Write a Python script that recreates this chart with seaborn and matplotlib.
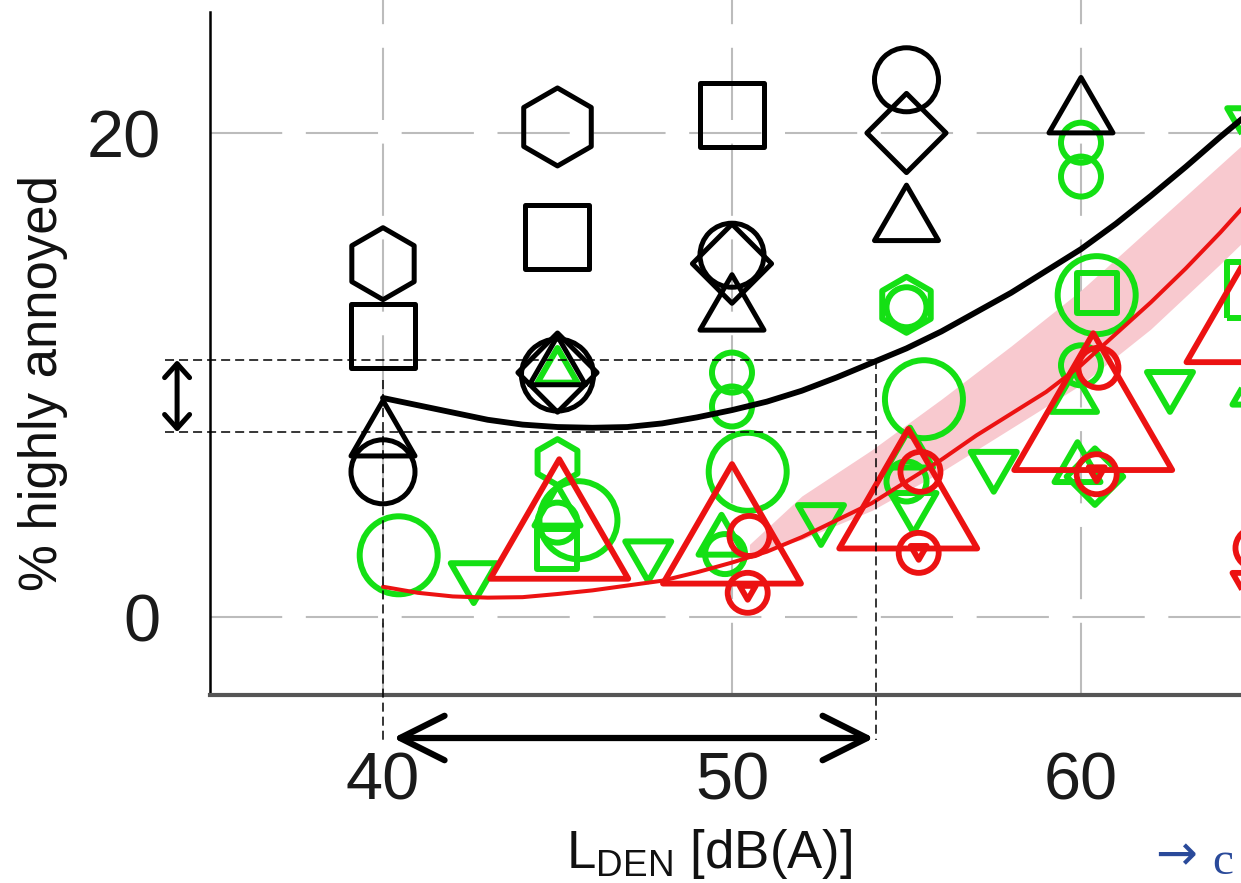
import numpy as np
import pandas as pd
import matplotlib
matplotlib.use("Agg")
import matplotlib.pyplot as plt
from matplotlib.path import Path
import seaborn as sns

# ---------------- data ----------------
curve_x = [40, 41, 42, 43, 44, 45, 46, 47, 48, 49, 50, 51, 52, 53, 54, 55, 56,
           57, 58, 59, 60, 61, 62, 63, 64, 65]
black_curve = [9.05, 8.75, 8.45, 8.15, 7.95, 7.85, 7.82, 7.85, 8.0, 8.25, 8.55,
               8.9, 9.35, 9.9, 10.5, 11.1, 11.8, 12.6, 13.4, 14.3, 15.2, 16.25,
               17.4, 18.6, 19.85, 21.05]
red_curve = [1.25, 1.0, 0.85, 0.8, 0.82, 0.95, 1.1, 1.3, 1.5, 1.85, 2.25,
             2.7, 3.3, 4.0, 4.7, 5.6, 6.5, 7.5, 8.4, 9.3, 10.4, 11.7, 13.0,
             14.4, 15.9, 17.5]

band_x = [50.5, 52, 54, 56, 58, 60, 62, 64, 65]
band_lo = [2.6, 3.2, 4.4, 6.0, 7.8, 9.6, 11.9, 14.6, 16.0]
band_hi = [3.0, 5.0, 6.9, 9.0, 11.2, 13.5, 16.1, 18.7, 20.0]

# study points: source, L_DEN, %HA, marker (study), weight class
pt_source = (["road"] * 34) + (["aircraft"] * 17) + (["railway"] * 17)
pt_x = [40.45, 42.6, 45, 45, 45.6, 45, 45, 45, 47.6, 50, 50, 50.45, 49.7, 49.8,
        52.55, 55, 55, 55.5, 55.1, 55.0, 55.2, 57.5, 60, 60, 60.45, 60.45, 59.8,
        60.0, 60.4, 59.9, 62.55, 64.85, 65.0, 65.0,
        40, 40, 40, 40, 45, 45, 45, 45, 45, 50, 50, 50, 50, 55, 55, 55, 60,
        45.05, 50.0, 50.5, 50.45, 50.45, 55.05, 55.4, 55.35, 55.35, 60.35, 60.5,
        60.45, 60.45, 65.0, 65.0, 65.0, 65.0]
pt_y = [2.55, 1.4, 10.4, 6.4, 4.0, 4.6, 3.9, 2.8, 2.3, 10.1, 8.7, 6.0, 3.4, 2.6,
        3.8, 12.9, 12.8, 9.0, 7.0, 5.6, 4.3, 6.0, 19.6, 18.2, 13.3, 13.4, 9.3,
        10.4, 5.8, 6.4, 9.3, 20.2, 13.5, 9.6,
        14.6, 11.6, 7.8, 6.0, 20.25, 15.7, 10.1, 10.0, 10.6, 20.75, 14.95, 14.6,
        13.0, 22.2, 20.0, 16.7, 21.15,
        4.05, 3.85, 3.35, 1.0, 1.0, 5.3, 6.0, 2.65, 2.65, 8.9, 10.3,
        5.9, 5.9, 13.0, 2.85, 1.0, 1.0]
pt_shape = ["circle", "tri_down", "tri", "hex", "circle", "tri", "circle", "square",
            "tri_down", "circle", "circle", "circle", "tri", "circle", "tri_down",
            "hex", "circle", "circle", "tri", "circle", "tri_down", "tri_down",
            "circle", "circle", "circle", "square", "tri", "circle", "diamond",
            "tri", "tri_down", "tri_down", "square", "tri",
            "hex", "square", "tri", "circle", "hex", "square", "diamond", "circle",
            "tri", "square", "circle", "diamond", "tri", "circle", "diamond", "tri",
            "tri",
            "tri", "tri", "circle", "circle", "tri_down", "tri", "circle", "circle",
            "tri_down", "tri", "circle", "circle", "tri_down", "tri", "circle",
            "tri_down", "tri_down"]
pt_n = ["f", "b", "a", "b", "f", "b", "a", "a", "b", "a", "a", "f", "b", "a",
        "b", "c", "a", "f", "b", "a", "b", "b", "a", "a", "f", "a", "b", "a",
        "a", "b", "b", "b", "c", "b",
        "e", "d", "d", "d", "f", "d", "c", "e", "c", "d", "d", "c", "d", "d",
        "c", "d", "d",
        "g", "g", "a", "a", "z", "g", "a", "a", "z", "h", "a", "a", "z", "g",
        "a", "z", "b"]

x_ticks = [40, 50, 60]
y_ticks = [0, 20]

# ---------------- styling ----------------
sns.set_style("white")
plt.rcParams["font.family"] = ["Liberation Sans", "DejaVu Sans"]
plt.rcParams["lines.scale_dashes"] = False

GREEN = "#14e014"
RED = "#ec1212"
palette = {"aircraft": "#000000", "road": GREEN, "railway": RED}
edge_lw = {"aircraft": 3.6, "road": 4.3, "railway": 4.2}

tri_up = Path([(0, 0.433), (-0.5, -0.433), (0.5, -0.433), (0, 0.433)], closed=True)
tri_dn = Path([(0, -0.433), (-0.5, 0.433), (0.5, 0.433), (0, -0.433)], closed=True)
markers = {"circle": "o", "square": "s", "hex": "h", "diamond": "D",
           "tri": tri_up, "tri_down": tri_dn}
size_px = {"z": 16, "a": 40, "b": 46, "c": 56, "d": 64, "e": 72, "f": 78,
           "g": 138, "h": 158}
sizes = {k: (v * 0.72) ** 2 for k, v in size_px.items()}

W, H = 1241, 883
fig = plt.figure(figsize=(W / 100, H / 100), dpi=100)
ax = fig.add_axes([210 / W, 188 / H, 1031 / W, 695 / H])

# confidence band
ax.fill_between(band_x, band_lo, band_hi, color="#f8c9cf", lw=0, zorder=1)

df = pd.DataFrame({"source": pt_source, "L": pt_x, "HA": pt_y,
                   "study": pt_shape, "n": pt_n})
sns.scatterplot(data=df, x="L", y="HA", hue="source", style="study", size="n",
                palette=palette, markers=markers, sizes=sizes, legend=False,
                ax=ax, zorder=3)
coll = ax.collections[-1]
fc = coll.get_facecolors()
coll.set_edgecolors(fc)
coll.set_facecolors("none")
coll.set_linewidths([edge_lw[s] for s in df["source"]])

sns.lineplot(x=curve_x, y=black_curve, color="black", lw=4.2, ax=ax, zorder=5)
sns.lineplot(x=curve_x, y=red_curve, color=RED, lw=2.9, ax=ax, zorder=4)

# axes
ax.set_xlim(35.043, 64.585)
ax.set_ylim(-3.223, 25.496)
ax.set_xticks(x_ticks)
ax.set_yticks(y_ticks)
ax.grid(True, color="#bcbcbc", lw=1.5, linestyle=(0, (52, 17)))
ax.set_axisbelow(True)
for s in ["top", "right"]:
    ax.spines[s].set_visible(False)
ax.spines["left"].set_color("black")
ax.spines["left"].set_linewidth(1.8)
ax.spines["left"].set_bounds(-3.223, 25.0)
ax.spines["bottom"].set_color("#555555")
ax.spines["bottom"].set_linewidth(3.0)
ax.tick_params(axis="y", direction="out", length=14.4, width=1.4, color="#333333",
               pad=21, labelsize=48, labelcolor="#1a1a1a")
ax.tick_params(axis="x", direction="out", length=13, width=1.4, color="#333333",
               pad=28, labelsize=48, labelcolor="#1a1a1a")

ax.set_ylabel("% highly annoyed", fontsize=38, color="#111111")
ax.yaxis.set_label_coords(-0.1377, 0.449)
ax.set_xlabel(r"L$_{\mathregular{DEN}}$ [dB(A)]", fontsize=38, color="#111111")
ax.xaxis.set_label_coords(0.484, -0.249)
ax.xaxis.label.set_va("baseline")

# annotation lines / arrows
dash = (0, (6.5, 3.6))
kw = dict(color="black", lw=1.1, linestyle=dash, clip_on=False, zorder=7)
ax.plot([33.75, 54.13], [10.62, 10.62], **kw)
ax.plot([33.75, 54.13], [7.64, 7.64], **kw)
ax.plot([40, 40], [9.79, -5.1], **kw)
ax.plot([54.13, 54.13], [10.62, -5.1], **kw)
ax.annotate("", xy=(34.1, 10.62), xytext=(34.1, 7.64), annotation_clip=False,
            arrowprops=dict(arrowstyle="<->,head_length=0.5,head_width=0.45",
                            lw=3.6, color="black", shrinkA=0, shrinkB=0,
                            mutation_scale=20), zorder=8)
ax.annotate("", xy=(40.29, -5.0), xytext=(54.07, -5.0), annotation_clip=False,
            arrowprops=dict(arrowstyle="<->,head_length=1.6,head_width=0.8",
                            lw=4.5, color="black", shrinkA=0, shrinkB=0,
                            mutation_scale=20), zorder=8)

fig.text(1155 / W, (883 - 870) / H, "→", color="#2a4a9a", fontsize=36,
         family=["DejaVu Sans"], ha="left", va="baseline")
fig.text(1212 / W, (883 - 874) / H, "c", color="#2a4a9a", fontsize=34,
         family=["Liberation Serif", "DejaVu Serif"], ha="left", va="baseline")

fig.savefig("out.png", dpi=100)
